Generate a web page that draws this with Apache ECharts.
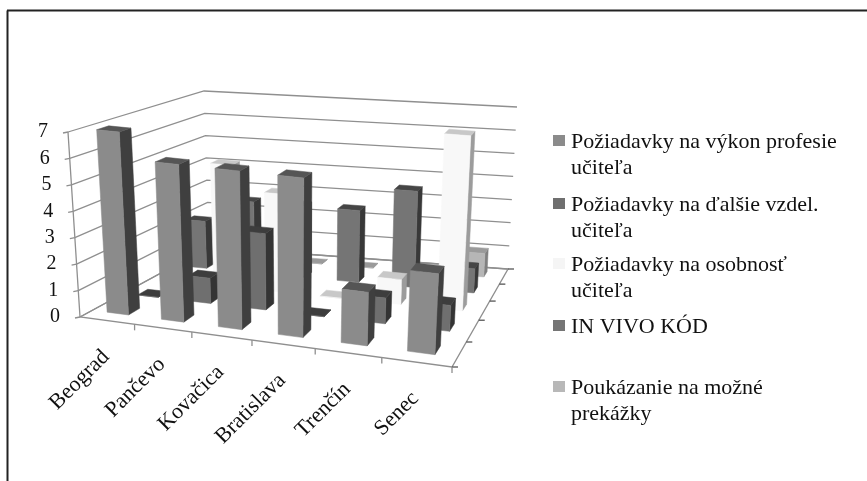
<!DOCTYPE html>
<html>
<head>
<meta charset="utf-8">
<title>chart</title>
<script src="https://cdn.jsdelivr.net/npm/echarts@6/dist/echarts.min.js"></script>
<style>
html,body{margin:0;padding:0;background:#fff;}
#main{width:867px;height:481px;}
</style>
</head>
<body>
<div id="main"></div>
<script>
//kategorie
var categories = ['Beograd','Pančevo','Kovačica','Bratislava','Trenčín','Senec'];
var valueTicks = [0,1,2,3,4,5,6,7];
//serie, poradie od predu dozadu
var seriesNames = ['Požiadavky na výkon profesie\nučiteľa','Požiadavky na ďalšie vzdel.\nučiteľa','Požiadavky na osobnosť\nučiteľa','IN VIVO KÓD','Poukázanie na možné\nprekážky'];
var vykon = [7,6,6,6,2,3];
var vzdel = [0,1,3,0,1,1];
var osobnost = [0,5,4,0,1,7];
var invivo = [2,3,3,3,4,1];
var prekazky = [0,0,0,0,0,1];
var allSeries = [vykon,vzdel,osobnost,invivo,prekazky];
//farby: predna, bocna, horna stena
var faceColors = ['#8b8b8b','#6f6f6f','#f8f8f8','#757575','#b6b6b6'];
var sideColors = ['#3f3f3f','#343434','#9c9c9c','#383838','#808080'];
var topColors = ['#555555','#3d3d3d','#c8c8c8','#454545','#9a9a9a'];
var legendColors = ['#8b8b8b','#6f6f6f','#f5f5f5','#757575','#b8b8b8'];

//rohy 3D kvadra na obrazovke
var FL0=[80,317],FR0=[452,367],BL0=[209,247],BR0=[508,269];
var FL7=[68,132],FR7=[462,175],BL7=[204,91],BR7=[517,107];
var warpX=1.163,warpD=0.73;

function mix(a,b,t){return [a[0]+(b[0]-a[0])*t,a[1]+(b[1]-a[1])*t];}
//u,d,v su 0..1
function project(u,d,v){
    var uu=u/(u+warpX*(1-u));
    var dd=d/(d+warpD*(1-d));
    var f0=mix(FL0,FR0,uu),b0=mix(BL0,BR0,uu);
    var f7=mix(FL7,FR7,uu),b7=mix(BL7,BR7,uu);
    return mix(mix(f0,b0,dd),mix(f7,b7,dd),v);
}

var myChart = echarts.init(document.getElementById('main'));

function poly(points,color){
    return {type:'polygon',shape:{points:points},style:{fill:color,stroke:color,lineWidth:0.5}};
}

function renderBar(params,api){
    var cs=params.coordSys;
    var row=api.value(2);
    var base=api.coord([api.value(0),0]);
    var top=api.coord([api.value(0),api.value(1)]);
    var band=api.size([1,0])[0];
    var uc=(base[0]-cs.x)/cs.width;
    var ub=band/cs.width;
    var u0=uc-ub*0.5+ub*0.28,u1=uc-ub*0.5+ub*0.68;
    var d0=(row+0.36)/5,d1=(row+0.72)/5;
    var v=(cs.y+cs.height-top[1])/cs.height;
    return {type:'group',children:[
        poly([project(u1,d0,0),project(u1,d1,0),project(u1,d1,v),project(u1,d0,v)],sideColors[row]),
        poly([project(u0,d0,v),project(u1,d0,v),project(u1,d1,v),project(u0,d1,v)],topColors[row]),
        poly([project(u0,d0,0),project(u1,d0,0),project(u1,d0,v),project(u0,d0,v)],faceColors[row])
    ]};
}

//mriezka a popisy osi
function renderGrid(params,api){
    var cs=params.coordSys;
    var p=api.coord([0,api.value(0)]);
    var v=(cs.y+cs.height-p[1])/cs.height;
    var a=project(0,0,v),b=project(0,1,v),c=project(1,1,v);
    return {type:'group',children:[
        {type:'polyline',shape:{points:[a,b,c]},style:{fill:null,stroke:'#8f8f8f',lineWidth:1.3}},
        {type:'line',shape:{x1:a[0]-5,y1:a[1]+1,x2:a[0],y2:a[1]},style:{stroke:'#8f8f8f',lineWidth:1.3}},
        {type:'text',x:a[0]-20,y:a[1],style:{text:String(api.value(0)),fill:'#111',align:'right',verticalAlign:'middle',font:'20px "Liberation Serif"'}}
    ]};
}

function renderCat(params,api){
    var cs=params.coordSys;
    var i=api.value(0);
    var c=api.coord([i,0]);
    var band=api.size([1,0])[0];
    var uc=(c[0]-cs.x)/cs.width;
    var pc=project(uc,0,0);
    var t=project(uc+band/cs.width/2,0,0);
    return {type:'group',children:[
        {type:'line',shape:{x1:t[0],y1:t[1],x2:t[0],y2:t[1]+6},style:{stroke:'#8f8f8f',lineWidth:1.3}},
        {type:'text',x:pc[0]-1,y:pc[1]+33,rotation:Math.PI/4,style:{text:categories[i],fill:'#111',align:'right',verticalAlign:'middle',font:'22px "Liberation Serif"'}}
    ]};
}

function renderFrame(){
    var children=[
        {type:'polyline',shape:{points:[project(0,0,1),project(0,0,0),project(1,0,0),project(1,1,0),project(0,1,0),project(0,0,0)]},style:{fill:null,stroke:'#8f8f8f',lineWidth:1.3}}
    ];
    var depthTicks=[0,1,2,3,4,5];
    depthTicks.forEach(function(k){
        var a=project(1,k/5,0);
        children.push({type:'line',shape:{x1:a[0],y1:a[1],x2:a[0]+6,y2:a[1]},style:{stroke:'#555',lineWidth:1.3}});
    });
    return {type:'group',children:children};
}

var series=[
    {type:'custom',coordinateSystem:'cartesian2d',data:valueTicks.map(function(v){return [v];}),renderItem:renderGrid,z:1,silent:true},
    {type:'custom',coordinateSystem:'cartesian2d',data:[[0]],renderItem:renderFrame,z:2,silent:true},
    {type:'custom',coordinateSystem:'cartesian2d',data:categories.map(function(c,i){return [i];}),renderItem:renderCat,z:2,silent:true}
];
//zadne rady sa kreslia prve
for(var r=allSeries.length-1;r>=0;r--){
    series.push({
        type:'custom',
        name:seriesNames[r],
        coordinateSystem:'cartesian2d',
        data:allSeries[r].map(function(val,i){return [i,val,r];}),
        encode:{x:0,y:1},
        renderItem:renderBar,
        z:10+(allSeries.length-r)
    });
}

//legenda
var legendRows=[142,205,265,327,388];
var legendGraphic=[
    {type:'line',shape:{x1:7.5,y1:481,x2:7.5,y2:10.5},style:{stroke:'#222',lineWidth:2}},
    {type:'line',shape:{x1:7,y1:10.5,x2:867,y2:10.5},style:{stroke:'#222',lineWidth:2}}
];
seriesNames.forEach(function(name,i){
    legendGraphic.push({type:'rect',shape:{x:553,y:legendRows[i]-7,width:12,height:11},style:{fill:legendColors[i]}});
    legendGraphic.push({type:'text',x:571,y:legendRows[i]-13,style:{text:name,fill:'#111',font:'22px "Liberation Serif"',lineHeight:26,align:'left',verticalAlign:'top'}});
});

var option={
    animation:false,
    backgroundColor:'#fff',
    grid:{left:100,top:100,width:300,height:200},
    xAxis:{type:'category',data:categories,show:false},
    yAxis:{type:'value',min:0,max:7,interval:1,show:false},
    graphic:legendGraphic,
    series:series
};
myChart.setOption(option);
</script>
</body>
</html>
